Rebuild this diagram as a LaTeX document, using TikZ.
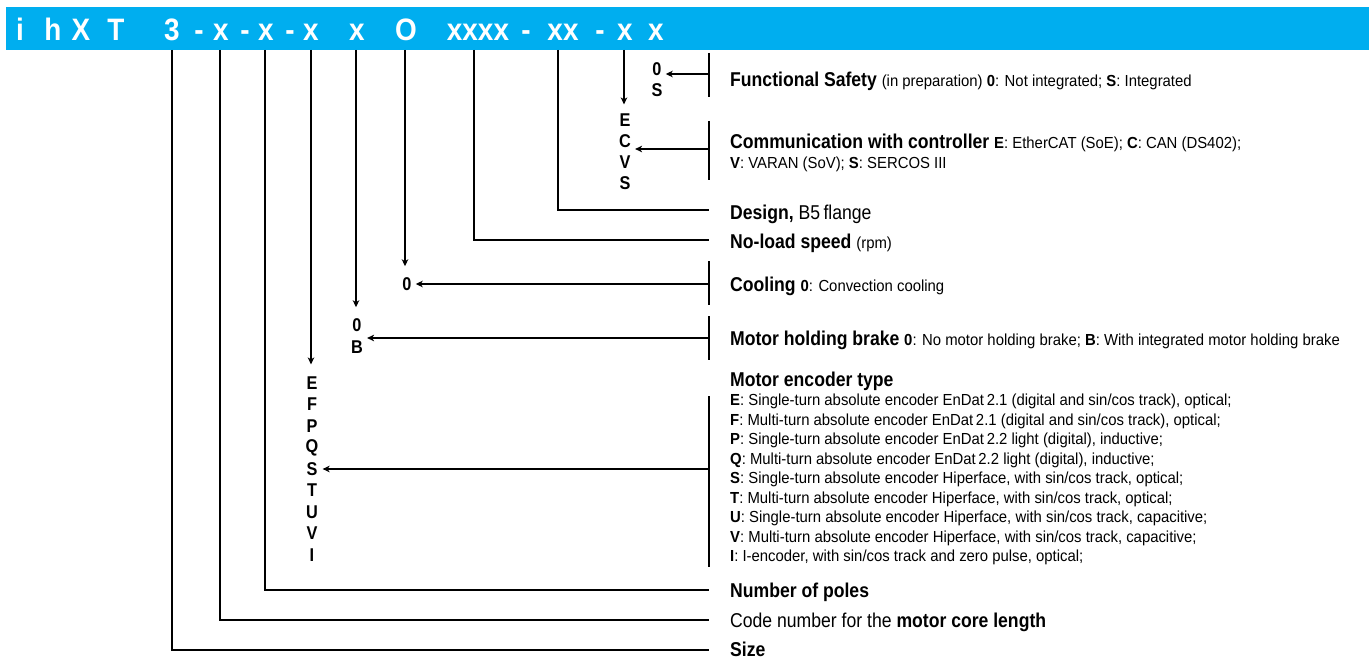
\documentclass[tikz,border=0pt]{standalone}
\usepackage{fontspec}
\setmainfont{Liberation Sans}[FakeStretch=0.88]
\newfontfamily\hdrfont{Liberation Sans}[FakeStretch=0.9]
\newfontfamily\dscfont{Liberation Sans}[FakeStretch=0.93]
\usetikzlibrary{arrows.meta,calc}
\definecolor{barblue}{RGB}{0,174,239}
\newcommand{\dsc}{\dscfont\fontsize{16}{19}\selectfont\mdseries}
\tikzset{
  conn/.style={line width=1.4pt, draw=black},
  arr/.style={conn, -{Stealth[length=7pt,width=6.5pt,inset=2pt]}},
  hdr/.style={text=white, font=\hdrfont\fontsize{31}{31}\selectfont\bfseries, inner sep=0, anchor=base},
  ttl/.style={anchor=base west, inner sep=0, font=\fontsize{20}{24}\selectfont\bfseries},
  lst/.style={anchor=base west, inner sep=0, font=\dsc},
  ltr/.style={inner sep=0, font=\fontsize{18.5}{21}\selectfont\bfseries},
}
\begin{document}
\begin{tikzpicture}[x=1pt,y=-1pt]
\useasboundingbox (0,0) rectangle (1369,658);
% header bar
\fill[barblue] (6,7) rectangle (1369,50);
\foreach \ch/\xx [count=\i] in {i/20,h/53,X/81,T/116,3/172,-/199,x/221,-/245,x/266,-/290,x/311,x/357,O/406,xxxx/478,-/526,xx/563,-/600,x/625,x/656}
  \node[hdr] (g\i) at (\xx,41) {\ch};
% tick origins at bar bottom
\foreach \n/\xx in {a/172,b/220,c/265,d/311,e/356,f/405,g/474,h/558,k/624}
  \coordinate (t\n) at (\xx,50);
% bracket coordinates
\coordinate (fsb) at (709,74);
\coordinate (cmb) at (709,149);
\coordinate (clb) at (709,284);
\coordinate (hbb) at (709,338);
\coordinate (enb) at (709,469);
\coordinate (dse) at (709,210);
\coordinate (nle) at (709,240);
\coordinate (npe) at (709,590);
\coordinate (cle) at (709,620);
\coordinate (sze) at (709,650);
% brackets
\draw[conn] (709,53) -- (709,97);
\draw[conn] (709,121) -- (709,180);
\draw[conn] (709,261) -- (709,305);
\draw[conn] (709,316) -- (709,360);
\draw[conn] (709,396) -- (709,567);
% letter stacks
\node[ltr] (fs0) at (657,69) {0};
\node[ltr] (fsS) at (657,90) {S};
\node[ltr] (cmE) at (625,120) {E};
\node[ltr] (cmC) at (625,141) {C};
\node[ltr] (cmV) at (625,162) {V};
\node[ltr] (cmS) at (625,183) {S};
\node[ltr] (cl0) at (407,284) {0};
\node[ltr] (hb0) at (357,325) {0};
\node[ltr] (hbB) at (357,347) {B};
\foreach \L [count=\i] in {E,F,P,Q,S,T,U,V,I}
  \node[ltr] (en\i) at (312,{383+21.5*(\i-1)}) {\L};
% connectors
\draw[arr, shorten >=4pt] (fsb) -- (fsb -| fs0.east);
\draw[arr, shorten >=9pt] (tk) -- (tk |- cmE.north);
\draw[arr, shorten >=4pt] (cmb) -- (cmb -| cmC.east);
\draw[conn] (th) |- (dse);
\draw[conn] (tg) |- (nle);
\draw[arr, shorten >=11pt] (tf) -- (tf |- cl0.north);
\draw[arr, shorten >=4pt] (clb) -- (clb -| cl0.east);
\draw[arr, shorten >=11pt] (te) -- (te |- hb0.north);
\draw[arr, shorten >=4pt] (hbb) -- (hbb -| hbB.east);
\draw[arr, shorten >=12pt] (td) -- (td |- en1.north);
\draw[arr, shorten >=5pt] (enb) -- (enb -| en5.east);
\draw[conn] (tc) |- (npe);
\draw[conn] (tb) |- (cle);
\draw[conn] (ta) |- (sze);
% texts
\node[ttl] (fst) at (730,87) {Functional Safety {\dsc (in preparation) \textbf{0}: Not integrated; \textbf{S}: Integrated}};
\node[ttl] (cmt) at (730,149) {Communication with controller {\dsc \textbf{E}: EtherCAT (SoE); \textbf{C}: CAN (DS402);}};
\node[lst] (cmt2) at (730,168) {\textbf{V}: VARAN (SoV); \textbf{S}: SERCOS III};
\node[ttl] (dst) at (730,219) {Design, {\mdseries B5\,flange}};
\node[ttl] (nlt) at (730,248) {No-load speed {\dsc (rpm)}};
\node[ttl] (clt) at (730,291) {Cooling {\dsc \textbf{0}: Convection cooling}};
\node[ttl] (hbt) at (730,345) {Motor holding brake {\dsc \textbf{0}: No motor holding brake; \textbf{B}: With integrated motor holding brake}};
\node[ttl] (ent) at (730,386) {Motor encoder type};
\node[lst] (l1) at (730,405.5) {\textbf{E}: Single-turn absolute encoder EnDat\,2.1 (digital and sin/cos track), optical;};
\node[lst] (l2) at (730,425) {\textbf{F}: Multi-turn absolute encoder EnDat\,2.1 (digital and sin/cos track), optical;};
\node[lst] (l3) at (730,444.5) {\textbf{P}: Single-turn absolute encoder EnDat\,2.2 light (digital), inductive;};
\node[lst] (l4) at (730,464) {\textbf{Q}: Multi-turn absolute encoder EnDat\,2.2 light (digital), inductive;};
\node[lst] (l5) at (730,483.5) {\textbf{S}: Single-turn absolute encoder Hiperface, with sin/cos track, optical;};
\node[lst] (l6) at (730,503) {\textbf{T}: Multi-turn absolute encoder Hiperface, with sin/cos track, optical;};
\node[lst] (l7) at (730,522.5) {\textbf{U}: Single-turn absolute encoder Hiperface, with sin/cos track, capacitive;};
\node[lst] (l8) at (730,542) {\textbf{V}: Multi-turn absolute encoder Hiperface, with sin/cos track, capacitive;};
\node[lst] (l9) at (730,561.5) {\textbf{I}: I-encoder, with sin/cos track and zero pulse, optical;};
\node[ttl] (npt) at (730,597) {Number of poles};
\node[ttl] (clt2) at (730,627) {{\mdseries Code number for the} motor core length};
\node[ttl] (szt) at (730,656) {Size};
\end{tikzpicture}
\end{document}
